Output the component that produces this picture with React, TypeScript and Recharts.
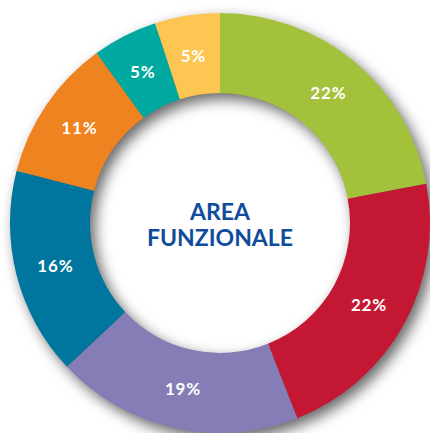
import { PieChart, Pie, Cell } from 'recharts';

const areas = ['Area A', 'Area B', 'Area C', 'Area D', 'Area E', 'Area F', 'Area G'];
const shares = [22, 22, 19, 16, 11, 5, 5];
const colors = ['#a3c13a', '#c41733', '#857db6', '#00759e', '#ef831f', '#00a9a0', '#fdc652'];

const data = areas.map((name, i) => ({ name, value: shares[i] }));

const W = 430;
const H = 433;
const CX = 220;
const CY = 223;
const INNER = 130;
const OUTER = 210;
const noMargin = { top: 0, right: 0, bottom: 0, left: 0 };

const RADIAN = Math.PI / 180;

function renderLabel(props: any) {
  const { cx, cy, midAngle, innerRadius, outerRadius, value } = props;
  const r = (innerRadius + outerRadius) / 2;
  const x = cx + r * Math.cos(-midAngle * RADIAN);
  const y = cy + r * Math.sin(-midAngle * RADIAN);
  return (
    <text
      x={x}
      y={y}
      fill="#ffffff"
      textAnchor="middle"
      dominantBaseline="central"
      fontFamily="Lato, sans-serif"
      fontWeight={700}
      fontSize={17}
      letterSpacing={0.8}
    >
      {value}%
    </text>
  );
}

export default function App() {
  return (
    <div style={{ position: 'absolute', top: 0, left: 0, width: W, height: H, background: '#fff', overflow: 'hidden' }}>
      <div style={{ position: 'absolute', top: 0, left: 0, filter: 'drop-shadow(5px 6px 7px rgba(0,0,0,0.6))' }}>
        <PieChart width={W} height={H} margin={noMargin}>
          <Pie
            data={data}
            dataKey="value"
            cx={CX}
            cy={CY}
            innerRadius={INNER}
            outerRadius={OUTER}
            startAngle={90}
            endAngle={-270}
            stroke="none"
            isAnimationActive={false}
          >
            {data.map((d, i) => (
              <Cell key={d.name} fill={colors[i]} />
            ))}
          </Pie>
        </PieChart>
      </div>
      <div style={{ position: 'absolute', top: 0, left: 0 }}>
        <PieChart width={W} height={H} margin={noMargin}>
          <Pie
            data={data}
            dataKey="value"
            cx={CX}
            cy={CY}
            innerRadius={INNER}
            outerRadius={OUTER}
            startAngle={90}
            endAngle={-270}
            stroke="none"
            fillOpacity={0}
            label={renderLabel}
            labelLine={false}
            isAnimationActive={false}
          >
            {data.map((d) => (
              <Cell key={d.name} fill="transparent" />
            ))}
          </Pie>
          <text
            x={CX}
            y={211}
            textAnchor="middle"
            dominantBaseline="central"
            fill="#0f4c9c"
            fontFamily="Lato, sans-serif"
            fontWeight={700}
            fontSize={23}
          >
            AREA
          </text>
          <text
            x={CX}
            y={237}
            textAnchor="middle"
            dominantBaseline="central"
            fill="#0f4c9c"
            fontFamily="Lato, sans-serif"
            fontWeight={700}
            fontSize={23}
          >
            FUNZIONALE
          </text>
        </PieChart>
      </div>
    </div>
  );
}
